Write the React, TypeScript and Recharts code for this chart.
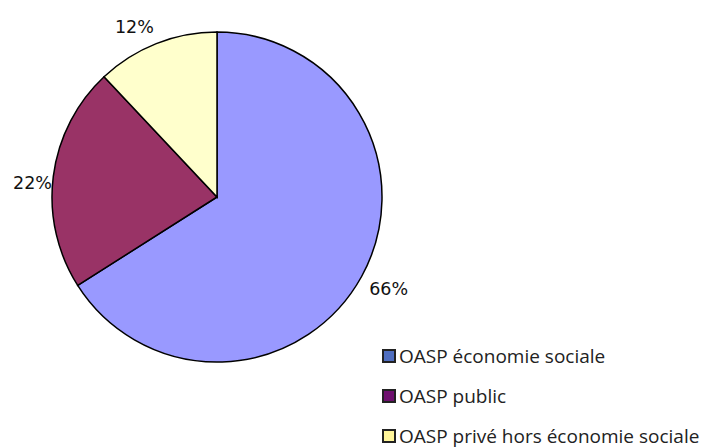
import React from 'react';
import { PieChart, Pie, Cell, Legend } from 'recharts';

const categories = ['OASP économie sociale', 'OASP public', 'OASP privé hors économie sociale'];
const values = [66, 22, 12];
const sliceColors = ['#9999FF', '#993366', '#FFFFCC'];
const legendColors = ['#4F6EC0', '#6E106E', '#FFF59A'];

const data = categories.map((name, i) => ({ name, value: values[i] }));

const RAD = Math.PI / 180;
const labelNudges = [
  { dx: 6, dy: 1 },
  { dx: 3, dy: 10 },
  { dx: -13, dy: 6 },
];

const renderLabel = (props: any) => {
  const { cx, cy, midAngle, outerRadius, index } = props;
  const r = outerRadius + 24;
  const x = cx + r * Math.cos(-midAngle * RAD) + labelNudges[index].dx;
  const y = cy + r * Math.sin(-midAngle * RAD) + labelNudges[index].dy;
  return (
    <text
      x={x}
      y={y}
      textAnchor="middle"
      dominantBaseline="central"
      fontFamily="DejaVu Sans"
      fontSize={17.5}
      fill="#111"
    >
      {`${values[index]}%`}
    </text>
  );
};

const renderLegend = () => (
  <div style={{ fontFamily: 'Open Sans, Noto Sans, sans-serif', fontSize: 19, color: '#222', lineHeight: '20px' }}>
    {categories.map((c, i) => (
      <div key={c} style={{ display: 'flex', alignItems: 'center', height: 40, whiteSpace: 'nowrap' }}>
        <span
          style={{
            display: 'inline-block',
            width: 10,
            height: 10,
            background: legendColors[i],
            border: '2px solid #222',
            marginRight: 3,
          }}
        />
        <span style={{ lineHeight: '20px' }}>{c}</span>
      </div>
    ))}
  </div>
);

export default function App() {
  return (
    <div style={{ position: 'absolute', left: 0, top: 0, width: 707, height: 448, background: '#fff', overflow: 'hidden' }}>
      <PieChart width={707} height={448} margin={{ top: 0, right: 0, bottom: 0, left: 0 }}>
        <Pie
          data={data}
          dataKey="value"
          nameKey="name"
          cx={217}
          cy={197}
          outerRadius={165}
          startAngle={90}
          endAngle={-270}
          stroke="#000"
          strokeWidth={1.5}
          label={renderLabel}
          labelLine={false}
          isAnimationActive={false}
        >
          {data.map((d, i) => (
            <Cell key={d.name} fill={sliceColors[i]} />
          ))}
        </Pie>
        <Legend
          content={renderLegend}
          wrapperStyle={{ position: 'absolute', left: 382, top: 336, width: 324 }}
        />
      </PieChart>
    </div>
  );
}
